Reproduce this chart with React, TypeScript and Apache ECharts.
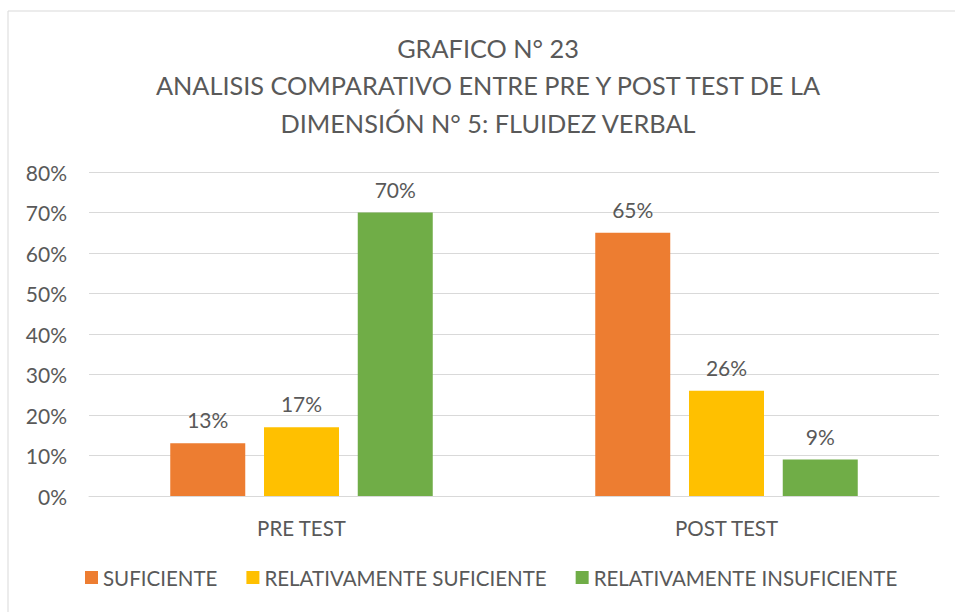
import React, { useEffect, useRef } from "react";
import * as echarts from "echarts";

const categories = ["PRE TEST", "POST TEST"];
const yTicks = [0, 10, 20, 30, 40, 50, 60, 70, 80];
const suficiente = [13, 65];
const relSuficiente = [17, 26];
const relInsuficiente = [70, 9];
const seriesNames = ["SUFICIENTE", "RELATIVAMENTE SUFICIENTE", "RELATIVAMENTE INSUFICIENTE"];
const colors = ["#ED7D31", "#FFC000", "#70AD47"];
const titleLines = [
  "GRAFICO N° 23",
  "ANALISIS COMPARATIVO ENTRE PRE Y POST TEST DE LA",
  "DIMENSIÓN N° 5: FLUIDEZ VERBAL",
];

const FONT = "Lato";
const TEXT = "#595959";

export default function App() {
  const ref = useRef<HTMLDivElement>(null);
  useEffect(() => {
    if (!ref.current) return;
    const chart = echarts.init(ref.current, undefined, { renderer: "svg" });
    const data = [suficiente, relSuficiente, relInsuficiente];
    chart.setOption({
      animation: false,
      backgroundColor: "#fff",
      textStyle: { fontFamily: FONT, color: TEXT },
      graphic: [
        {
          type: "rect",
          shape: { x: 8, y: 11, width: 1000, height: 700 },
          style: { fill: "none", stroke: "#D9D9D9", lineWidth: 1 },
          silent: true,
        },
        {
          type: "text",
          x: 488,
          y: 29,
          style: {
            text: titleLines.join("\n"),
            align: "center",
            verticalAlign: "top",
            fontFamily: FONT,
            fontSize: 25.3,
            lineHeight: 37.5,
            fill: TEXT,
          },
          silent: true,
        },
      ],
      legend: {
        bottom: 19,
        left: 80,
        itemWidth: 13,
        itemHeight: 13,
        itemGap: 29,
        icon: "rect",
        textStyle: { fontFamily: FONT, fontSize: 20.5, color: TEXT },
        data: seriesNames,
      },
      grid: { left: 89, right: 16, top: 172, bottom: 116, containLabel: false },
      xAxis: {
        type: "category",
        data: categories,
        axisLine: { lineStyle: { color: "#D9D9D9", width: 1 } },
        axisTick: { show: false },
        axisLabel: { fontFamily: FONT, fontSize: 20.5, color: TEXT, margin: 21 },
      },
      yAxis: {
        type: "value",
        min: yTicks[0],
        max: yTicks[yTicks.length - 1],
        interval: 10,
        axisLine: { show: false },
        axisTick: { show: false },
        splitLine: { lineStyle: { color: "#D9D9D9", width: 1 } },
        axisLabel: { fontFamily: FONT, fontSize: 21, color: TEXT, margin: 22, formatter: "{value}%" },
      },
      series: seriesNames.map((name, i) => ({
        name,
        type: "bar",
        data: data[i],
        barWidth: 75,
        barGap: "25%",
        itemStyle: { color: colors[i] },
        label: {
          show: true,
          position: "top",
          distance: 13,
          formatter: "{c}%",
          fontFamily: FONT,
          fontSize: 21,
          color: TEXT,
        },
      })),
    });
    return () => chart.dispose();
  }, []);
  return <div ref={ref} style={{ position: "absolute", left: 0, top: 0, width: 955, height: 612 }} />;
}
